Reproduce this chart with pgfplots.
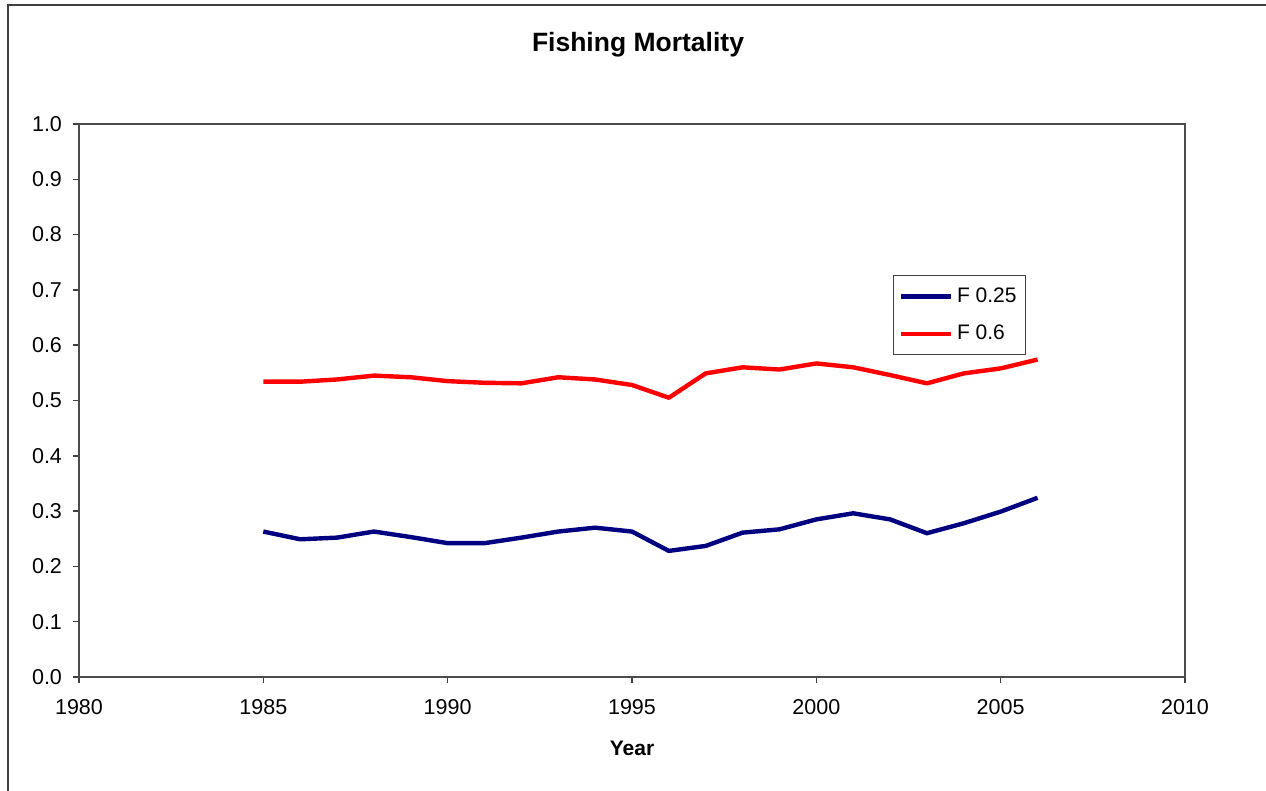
\documentclass[border=0pt]{standalone}
\usepackage{pgfplots}
\pgfplotsset{compat=1.18}
\usepackage{fontspec}
\setmainfont{Liberation Sans}
\definecolor{navyline}{RGB}{0,0,128}
\definecolor{redline}{RGB}{255,0,0}
\begin{document}
\begin{tikzpicture}[x=0.5pt,y=0.5pt]
\useasboundingbox (-79,-114) rectangle (1187,677);
\fill[white] (-79,-114) rectangle (1187,677);
\draw[black!75, line width=1pt] (-71,-114) -- (-71,672) -- (1187,672);
\begin{axis}[
  at={(0,0)}, anchor=south west,
  scale only axis,
  width=553pt, height=276.5pt,
  xmin=1980, xmax=2010, ymin=0, ymax=1,
  xtick={1980,1985,1990,1995,2000,2005,2010},
  ytick={0,0.1,0.2,0.3,0.4,0.5,0.6,0.7,0.8,0.9,1.0},
  tick pos=left,
  tick align=outside,
  major tick length=3pt,
  tick style={black!75, line width=0.75pt},
  axis line style={black!70, line width=0.75pt},
  /pgf/number format/assume math mode=true,
  xticklabel style={/pgf/number format/1000 sep={}, font=\fontsize{10.75}{12}\selectfont, yshift=-4.5pt},
  yticklabel style={/pgf/number format/.cd, fixed, fixed zerofill, precision=1, /tikz/.cd, font=\fontsize{10.75}{12}\selectfont, xshift=-2pt},
  legend style={at={(0.736,0.727)}, anchor=north west, draw=black!75, line width=0.6pt,
    font=\fontsize{10.5}{12}\selectfont, inner xsep=2.5pt, inner ysep=4pt, row sep=6pt,
    legend cell align=left},
  legend image code/.code={\draw[#1] (0pt,0pt) -- (25pt,0pt);},
]
\addplot[navyline, line width=2.2pt, line join=round] coordinates {
(1985,0.263) (1986,0.249) (1987,0.252) (1988,0.263) (1989,0.253) (1990,0.242)
(1991,0.242) (1992,0.252) (1993,0.263) (1994,0.270) (1995,0.263) (1996,0.228)
(1997,0.237) (1998,0.261) (1999,0.267) (2000,0.285) (2001,0.296) (2002,0.285)
(2003,0.260) (2004,0.278) (2005,0.299) (2006,0.324)
};
\addlegendentry{F 0.25}
\addplot[redline, line width=2.2pt, line join=round] coordinates {
(1985,0.534) (1986,0.534) (1987,0.538) (1988,0.545) (1989,0.542) (1990,0.535)
(1991,0.532) (1992,0.531) (1993,0.542) (1994,0.538) (1995,0.528) (1996,0.505)
(1997,0.549) (1998,0.560) (1999,0.556) (2000,0.567) (2001,0.560) (2002,0.546)
(2003,0.531) (2004,0.549) (2005,0.558) (2006,0.574)
};
\addlegendentry{F 0.6}
\end{axis}
\node[font=\fontsize{13.25}{15}\selectfont\bfseries] at (559,632) {Fishing Mortality};
\node[font=\fontsize{10.5}{12}\selectfont\bfseries] at (553,-71) {Year};
\end{tikzpicture}
\end{document}
